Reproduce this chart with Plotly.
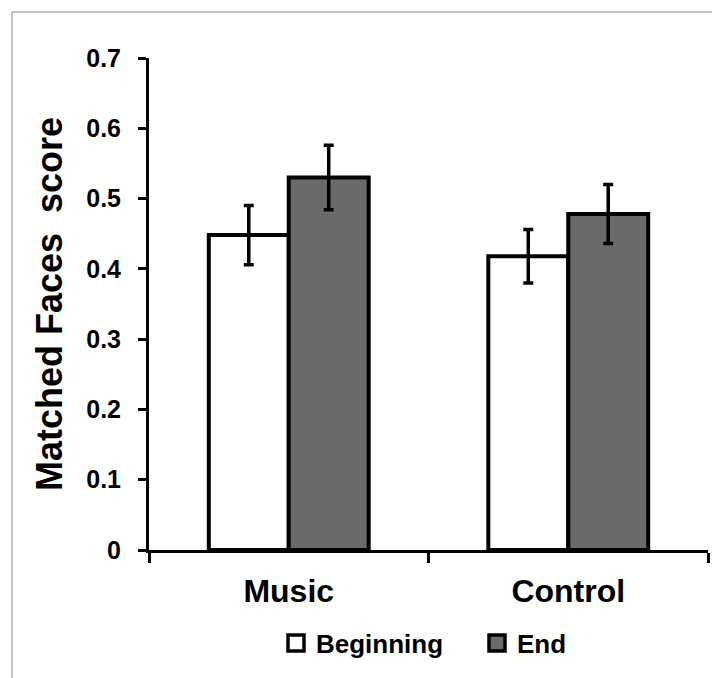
import plotly.graph_objects as go

categories = ["Music", "Control"]
series_names = ["Beginning", "End"]
beginning_vals = [0.448, 0.418]
beginning_err = [0.042, 0.038]
end_vals = [0.530, 0.478]
end_err = [0.046, 0.042]
y_ticks = [0, 0.1, 0.2, 0.3, 0.4, 0.5, 0.6, 0.7]
y_tick_text = ["0", "0.1", "0.2", "0.3", "0.4", "0.5", "0.6", "0.7"]

FONT = "Liberation Sans, Arial, sans-serif"
W, H = 720, 678
ML, MR, MT, MB = 141, 20, 50, 136

fig = go.Figure()
for name, vals, errs, color in [
    (series_names[0], beginning_vals, beginning_err, "#ffffff"),
    (series_names[1], end_vals, end_err, "#6a6a6a"),
]:
    fig.add_trace(go.Bar(
        x=categories, y=vals, name=name, showlegend=False,
        marker=dict(color=color, line=dict(color="black", width=4)),
        error_y=dict(type="data", array=errs, visible=True, color="black",
                     thickness=3.5, width=5),
    ))
    fig.add_trace(go.Scatter(
        x=[None], y=[None], mode="markers", name=name,
        marker=dict(symbol="square", size=20, color=color,
                    line=dict(color="black", width=3.5)),
    ))

pw = W - ML - MR
ph = H - MT - MB
fig.add_shape(type="rect", xref="paper", yref="paper",
              x0=(4 - ML) / pw, x1=(W - 5 - ML) / pw,
              y0=-(H - 5 - MT - ph) / ph,
              y1=1 + (MT - 4) / ph,
              line=dict(color="#888888", width=1), layer="below")

fig.update_layout(
    width=W, height=H,
    margin=dict(l=ML, r=MR, t=MT, b=MB, pad=0),
    paper_bgcolor="white", plot_bgcolor="white",
    barmode="group", bargap=0.428, bargroupgap=0,
    font=dict(family=FONT, color="black"),
    showlegend=True,
    legend=dict(orientation="h", x=(268 - ML) / pw, xanchor="left", y=-0.189, yanchor="middle",
                font=dict(size=26, family=FONT, weight="bold"),
                entrywidth=156, itemsizing="trace"),
    xaxis=dict(
        showline=True, linecolor="black", linewidth=3,
        ticks="outside", ticklen=10, tickwidth=3, tickcolor="black",
        tickson="boundaries", showgrid=False, zeroline=False,
        tickfont=dict(size=32, family=FONT, weight="bold"),
        ticklabelstandoff=11,
    ),
    yaxis=dict(
        range=[0, 0.7], tickvals=y_ticks, ticktext=y_tick_text,
        showline=True, linecolor="black", linewidth=3,
        ticks="outside", ticklen=8, tickwidth=3, tickcolor="black",
        showgrid=False, zeroline=False,
        tickfont=dict(size=25, family=FONT, weight="bold"),
        ticklabelstandoff=12,
        title=dict(text="Matched Faces  score", standoff=13,
                   font=dict(size=36, family=FONT, weight="bold")),
    ),
)

fig.write_html("out.html")
